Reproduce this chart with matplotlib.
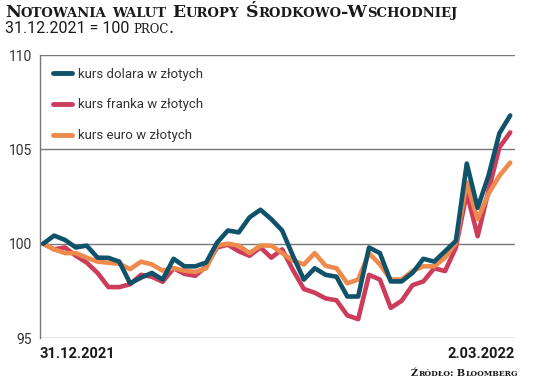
import matplotlib.pyplot as plt

# values, 31.12.2021 = 100
dolar = [100.0, 100.43, 100.2, 99.8, 99.9, 99.26, 99.25, 99.05, 97.9, 98.2,
         98.45, 98.1, 99.2, 98.8, 98.8, 99.0, 100.05, 100.7, 100.6, 101.4,
         101.8, 101.3, 100.7, 99.35, 98.1, 98.7, 98.35, 98.25, 97.2, 97.2,
         99.8, 99.5, 98.0, 98.0, 98.45, 99.2, 99.05, 99.6, 100.15, 104.25,
         101.9, 103.6, 105.85, 106.8]
frank = [100.0, 99.7, 99.8, 99.36, 99.0, 98.45, 97.7, 97.7, 97.85, 98.35,
         98.25, 97.98, 98.7, 98.4, 98.3, 98.8, 99.8, 99.95, 99.6, 99.36,
         99.8, 99.26, 99.7, 98.6, 97.6, 97.4, 97.1, 97.0, 96.2, 96.0,
         98.35, 98.1, 96.6, 96.97, 97.8, 98.0, 98.7, 98.55, 99.8, 102.7,
         100.4, 102.8, 105.1, 105.9]
euro = [100.0, 99.7, 99.5, 99.5, 99.26, 99.05, 98.99, 98.94, 98.65, 99.05,
        98.9, 98.57, 98.7, 98.57, 98.5, 98.7, 99.9, 100.0, 99.9, 99.5,
        99.9, 99.9, 99.5, 99.1, 98.9, 99.5, 98.83, 98.7, 97.9, 98.1,
        99.5, 98.9, 98.1, 98.1, 98.55, 98.8, 98.8, 99.26, 100.05, 103.25,
        101.3, 102.65, 103.6, 104.3]
labels = ['kurs dolara w złotych', 'kurs franka w złotych', 'kurs euro w złotych']
colors = ['#0f526a', '#cc3d5b', '#ee8a4c']
yticks = [95, 100, 105, 110]
date_first = '31.12.2021'
date_last = '2.03.2022'

fig = plt.figure(figsize=(5.36, 3.80), dpi=100)
ax = fig.add_axes([0.0746, 0.1105, 0.8864, 0.7445])

x = list(range(len(dolar)))
for series, lab, col, z in [(dolar, labels[0], colors[0], 4),
                            (frank, labels[1], colors[1], 2),
                            (euro, labels[2], colors[2], 3)]:
    ax.plot(x, series, color=col, lw=3.3, label=lab, zorder=z,
            solid_joinstyle='round', solid_capstyle='round')

ax.set_ylim(95, 110)
ax.set_xlim(-0.3, len(dolar) - 1 + 0.45)
ax.set_yticks(yticks)
ax.set_yticklabels([str(t) for t in yticks], fontsize=10, color='#333333',
                   family='Roboto')
ax.tick_params(axis='y', length=0, pad=6)
ax.set_xticks([])
for t in yticks:
    ax.axhline(t, color='#777777', lw=1.0, zorder=1)
for s in ['top', 'right', 'bottom']:
    ax.spines[s].set_visible(False)
ax.spines['left'].set_color('#777777')
ax.spines['left'].set_linewidth(1.0)

leg = ax.legend(loc='upper left', frameon=False, handlelength=1.5,
                labelspacing=1.35, handletextpad=0.4, borderaxespad=0.55,
                bbox_to_anchor=(0.0, 1.0),
                prop={'family': 'Roboto', 'size': 9.5})
for h in leg.get_lines():
    h.set_linewidth(3.5)
for t in leg.get_texts():
    t.set_color('#333333')

fig.text(0.0746, 0.068, date_first, fontsize=10.5, fontweight='bold', family='Roboto',
         ha='left', va='center', color='#1a1a1a')
fig.text(0.961, 0.068, date_last, fontsize=10.5, fontweight='bold', family='Roboto',
         ha='right', va='center', color='#1a1a1a')


def small_caps(x0, y0, text, big, small, align='left', **kw):
    # fake small caps: uppercase letters at full size, the rest uppercased smaller
    r = fig.canvas.get_renderer()
    runs = []
    for ch in text:
        up = not ch.islower()
        if runs and runs[-1][0] == up:
            runs[-1][1] += ch
        else:
            runs.append([up, ch])
    items = []
    for up, s in runs:
        t = fig.text(0, y0, s.upper(), fontsize=big if up else small,
                     ha='left', va='baseline', transform=None, **kw)
        items.append((t, t.get_window_extent(renderer=r).width))
    total = sum(w for _, w in items)
    xx = x0 - total if align == 'right' else x0
    for t, w in items:
        t.set_x(xx)
        xx += w
    return xx


small_caps(5, 380 - 17, 'Notowania walut Europy Środkowo-Wschodniej', 12.5, 9.5,
           family='DejaVu Serif', fontweight='bold', color='#1a1a1a')
t = fig.text(5, 380 - 33, '31.12.2021 = 100 ', fontsize=11.5, ha='left',
             va='baseline', transform=None, color='#1a1a1a', family='Roboto')
bb = t.get_window_extent(renderer=fig.canvas.get_renderer())
small_caps(bb.x1, 380 - 33, 'proc.', 11.5, 8.5, color='#1a1a1a',
           family='DejaVu Serif')
small_caps(518, 380 - 376, 'Źródło: Bloomberg', 7, 5.5, align='right',
           family='DejaVu Serif', fontweight='bold', color='#1a1a1a')

fig.savefig('out.png', dpi=100)
